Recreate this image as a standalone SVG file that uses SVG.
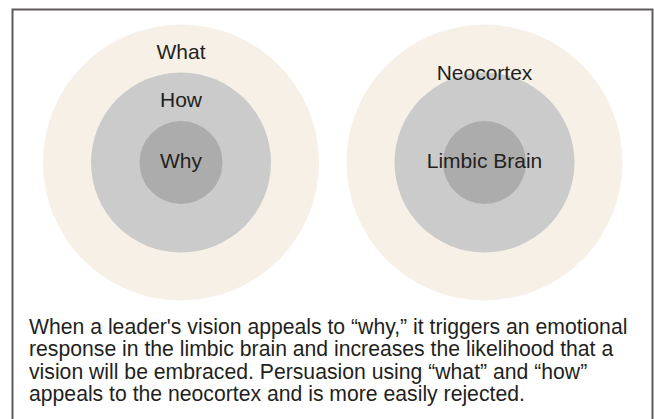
<svg xmlns="http://www.w3.org/2000/svg" width="654" height="419" viewBox="0 0 654 419">
<style>
.outer{fill:#f6f0e7}
.mid{fill:#cbcbcb}
.inner{fill:#acacac}
.lbl{font-family:"Liberation Sans",Arial,sans-serif;font-size:21px;fill:#231f20;text-anchor:middle}
.body{font-family:"Liberation Sans",Arial,sans-serif;font-size:21.2px;fill:#231f20}
</style>
<rect x="0" y="0" width="654" height="419" fill="#ffffff"/>
<rect x="12.5" y="9.5" width="640" height="430" fill="#ffffff" stroke="#5e5a5b" stroke-width="2"/>
<g id="left-what"><circle class="outer" cx="181" cy="162.5" r="138"/><text class="lbl" x="181" y="59">What</text></g>
<g id="left-how"><circle class="mid" cx="181" cy="162.5" r="90"/><text class="lbl" x="181" y="107">How</text></g>
<g id="left-why"><circle class="inner" cx="181" cy="162.5" r="41.5"/><text class="lbl" x="181" y="168">Why</text></g>
<g id="right-neocortex"><circle class="outer" cx="484.5" cy="162.5" r="138"/></g>
<g id="right-mid"><circle class="mid" cx="484.5" cy="162.5" r="90"/></g>
<g id="right-limbic"><circle class="inner" cx="484.5" cy="162.5" r="41.5"/><text class="lbl" x="484.5" y="168">Limbic Brain</text></g>
<g id="right-neocortex-label"><text class="lbl" x="484.5" y="80">Neocortex</text></g>
<g id="connectors"/>
<g id="caption">
<text class="body" x="29" y="333.5">When a leader's vision appeals to “why,” it triggers an emotional</text>
<text class="body" x="29" y="356">response in the limbic brain and increases the likelihood that a</text>
<text class="body" x="29" y="378.5">vision will be embraced. Persuasion using “what” and “how”</text>
<text class="body" x="29" y="401">appeals to the neocortex and is more easily rejected.</text>
</g>
</svg>
